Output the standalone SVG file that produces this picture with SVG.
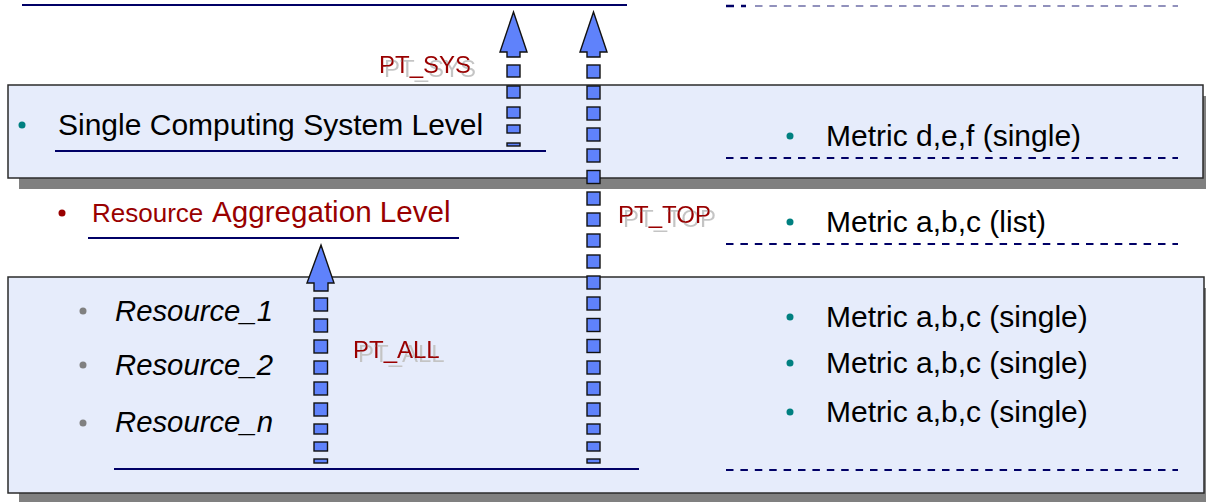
<svg xmlns="http://www.w3.org/2000/svg" width="1206" height="502" viewBox="0 0 1206 502">
  <style>
    .panel { fill: #e6ecfb; stroke: #2b2b2b; stroke-width: 1.5; }
    .shadow { fill: #808080; }
    .rule { stroke: #000066; stroke-width: 2; fill: none; }
    .dashrule { stroke: #000066; stroke-width: 2; stroke-dasharray: 7.5 6.9; fill: none; }
    .txt { font-family: "Liberation Sans", Arial, sans-serif; fill: #000; }
    .it { font-style: italic; }
    .red { fill: #990000; }
    .teal { fill: #008080; }
    .grey { fill: #808080; }
    .block { fill: #5f82fb; stroke: #111; stroke-width: 1.4; stroke-linejoin: miter; }
    .lbl { font-family: "Liberation Sans", Arial, sans-serif; font-size: 24px; fill: #990000; filter: url(#ghost); }
  </style>
  <defs>
    <!-- pale offset copy behind the arrow labels -->
    <filter id="ghost" x="-10%" y="-30%" width="130%" height="170%">
      <feFlood flood-color="#c4c4c4" result="tint"/>
      <feComposite in="tint" in2="SourceAlpha" operator="in" result="pale"/>
      <feOffset in="pale" dx="5" dy="4" result="moved"/>
      <feMerge>
        <feMergeNode in="moved"/>
        <feMergeNode in="SourceGraphic"/>
      </feMerge>
    </filter>
  </defs>

  <!-- top level rules -->
  <g id="top-level">
    <line class="rule" x1="22" y1="5" x2="627" y2="5"/>
    <line x1="726" y1="6" x2="734" y2="6" stroke="#000066" stroke-width="2.5"/>
    <line x1="741" y1="6" x2="746" y2="6" stroke="#000066" stroke-width="2.5"/>
    <line x1="755" y1="6" x2="1178" y2="6" stroke="#6e6ea6" stroke-width="1.6" stroke-dasharray="7.5 6.9"/>
  </g>

  <!-- single computing system level -->
  <g id="system-level">
    <rect class="shadow" x="19" y="96" width="1196" height="93"/>
    <rect class="panel" x="8" y="85" width="1195" height="93"/>
    <circle class="teal" cx="22" cy="125" r="3.5"/>
    <text class="txt" x="58" y="135" font-size="30">Single Computing System Level</text>
    <line class="rule" x1="55" y1="151" x2="546" y2="151"/>
    <circle class="teal" cx="790" cy="136" r="3.5"/>
    <text class="txt" x="826" y="146" font-size="30">Metric d,e,f (single)</text>
    <line class="dashrule" x1="726" y1="158" x2="1178" y2="158"/>
  </g>

  <!-- resource aggregation level -->
  <g id="aggregation-level">
    <circle class="red" cx="62" cy="213" r="3.5"/>
    <text class="txt red" x="92" y="222" font-size="26">Resource</text>
    <text class="txt red" x="212" y="222" font-size="29.6">Aggregation Level</text>
    <line class="rule" x1="88" y1="238" x2="459" y2="238"/>
    <circle class="teal" cx="790" cy="222" r="3.5"/>
    <text class="txt" x="826" y="232" font-size="30">Metric a,b,c (list)</text>
    <line class="dashrule" x1="726" y1="244" x2="1178" y2="244"/>
  </g>

  <!-- resource level -->
  <g id="resource-level">
    <rect class="shadow" x="19" y="288" width="1196" height="216"/>
    <rect class="panel" x="8" y="277" width="1196" height="216"/>
    <circle class="grey" cx="83" cy="311" r="3.5"/>
    <circle class="grey" cx="83" cy="365" r="3.5"/>
    <circle class="grey" cx="83" cy="423" r="3.5"/>
    <text class="txt it" x="115" y="321" font-size="29.3">Resource_1</text>
    <text class="txt it" x="115" y="375" font-size="29.3">Resource_2</text>
    <text class="txt it" x="115" y="432" font-size="29.3">Resource_n</text>
    <line class="rule" x1="114" y1="469" x2="639" y2="469"/>
    <circle class="teal" cx="790" cy="317" r="3.5"/>
    <circle class="teal" cx="790" cy="363" r="3.5"/>
    <circle class="teal" cx="790" cy="412" r="3.5"/>
    <text class="txt" x="826" y="327" font-size="30">Metric a,b,c (single)</text>
    <text class="txt" x="826" y="373" font-size="30">Metric a,b,c (single)</text>
    <text class="txt" x="826" y="422" font-size="30">Metric a,b,c (single)</text>
    <line class="dashrule" x1="726" y1="470" x2="1178" y2="470"/>
  </g>

  <!-- propagation arrows -->
  <g id="connectors">
    <!-- PT_SYS -->
    <g id="pt-sys">
      <polygon class="block" points="513.5,12 527,52 520,52 520,57 507,57 507,52 500,52"/>
      <rect class="block" x="507" y="65" width="13" height="12"/>
      <rect class="block" x="507" y="86" width="13" height="12"/>
      <rect class="block" x="507" y="107" width="13" height="11"/>
      <rect class="block" x="507" y="125" width="13" height="8"/>
      <rect class="block" x="507" y="143" width="13" height="3"/>
      <text class="lbl" x="379" y="73">PT_SYS</text>
    </g>
    <!-- PT_TOP -->
    <g id="pt-top">
      <polygon class="block" points="593.5,12 607,52 600,52 600,57 587,57 587,52 580,52"/>
      <rect class="block" x="587" y="65" width="13" height="13"/>
      <rect class="block" x="587" y="86" width="13" height="13"/>
      <rect class="block" x="587" y="107" width="13" height="13"/>
      <rect class="block" x="587" y="128" width="13" height="13"/>
      <rect class="block" x="587" y="149" width="13" height="13"/>
      <rect class="block" x="587" y="170.5" width="13" height="13"/>
      <rect class="block" x="587" y="192" width="13" height="13"/>
      <rect class="block" x="587" y="213" width="13" height="13"/>
      <rect class="block" x="587" y="234" width="13" height="13"/>
      <rect class="block" x="587" y="255" width="13" height="13"/>
      <rect class="block" x="587" y="276" width="13" height="13"/>
      <rect class="block" x="587" y="297" width="13" height="13"/>
      <rect class="block" x="587" y="318.5" width="13" height="13"/>
      <rect class="block" x="587" y="339.5" width="13" height="13"/>
      <rect class="block" x="587" y="361" width="13" height="13"/>
      <rect class="block" x="587" y="382" width="13" height="13"/>
      <rect class="block" x="587" y="403" width="13" height="13"/>
      <rect class="block" x="587" y="424" width="13" height="10"/>
      <rect class="block" x="587" y="442" width="13" height="9"/>
      <rect class="block" x="587" y="459" width="13" height="4"/>
      <text class="lbl" x="618" y="223">PT_TOP</text>
    </g>
    <!-- PT_ALL -->
    <g id="pt-all">
      <polygon class="block" points="321,245 334,283 328,283 328,291 314,291 314,283 307,283"/>
      <rect class="block" x="314" y="298" width="13.5" height="13"/>
      <rect class="block" x="314" y="319" width="13.5" height="13"/>
      <rect class="block" x="314" y="340" width="13.5" height="13"/>
      <rect class="block" x="314" y="361" width="13.5" height="13"/>
      <rect class="block" x="314" y="382" width="13.5" height="13"/>
      <rect class="block" x="314" y="403" width="13.5" height="13"/>
      <rect class="block" x="314" y="424" width="13.5" height="10"/>
      <rect class="block" x="314" y="442" width="13.5" height="9"/>
      <rect class="block" x="314" y="459" width="13.5" height="4"/>
      <text class="lbl" x="353" y="358">PT_ALL</text>
    </g>
  </g>
</svg>
